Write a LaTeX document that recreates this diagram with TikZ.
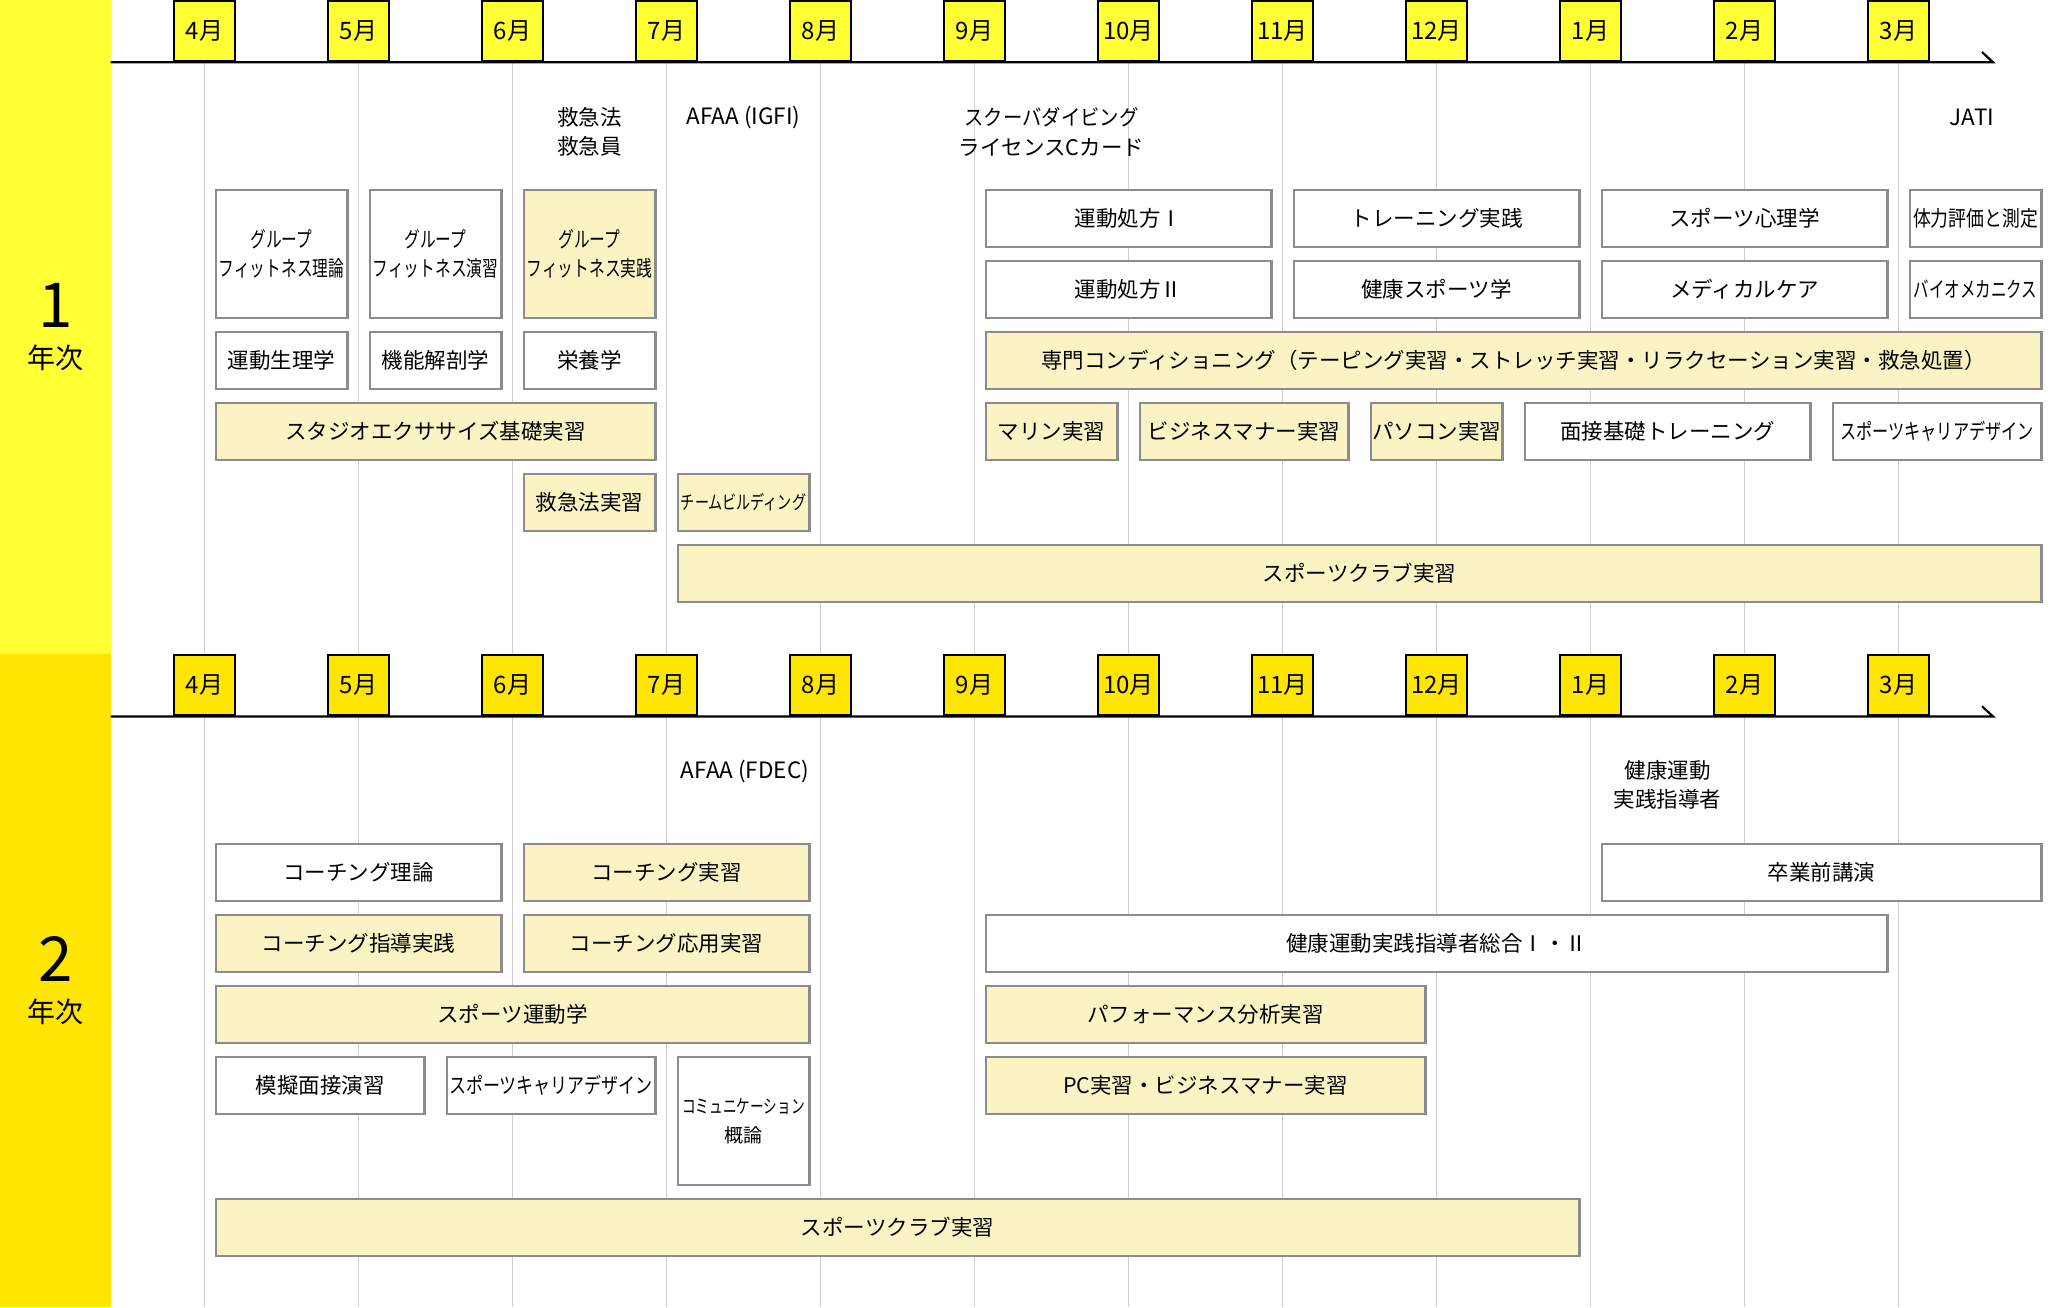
\documentclass[tikz,border=0pt]{standalone}
\usepackage{fontspec}
\usepackage{graphicx}
\setmainfont{Noto Sans CJK JP}
\definecolor{yA}{HTML}{FFFF33}
\definecolor{yB}{HTML}{FFE600}
\definecolor{cream}{HTML}{FAF4C4}
\definecolor{bord}{HTML}{8C8C8C}
\definecolor{gridc}{HTML}{CFCFCF}
\newcommand\nar[2][0.73]{\scalebox{#1}[1]{#2}}
% name, from month, to month, first row, last row, year offset, style, text
\newcommand\crs[8]{%
  \pgfmathsetmacro\crsxa{214.5+154*#2}%
  \pgfmathsetmacro\crsxb{194.5+154*#3}%
  \pgfmathsetmacro\crsya{#6+189+71*(#4-1)}%
  \pgfmathsetmacro\crsyb{#6+248+71*(#5-1)}%
  \node[#7, minimum width={\crsxb-\crsxa-2.2}, minimum height={\crsyb-\crsya-2.2}] (#1) at ({(\crsxa+\crsxb)/2},{(\crsya+\crsyb)/2}) {#8};%
}
\tikzset{
  course/.style={draw=bord, line width=2.2pt, inner sep=0pt, font=\fontsize{21.5}{29.5}\selectfont, align=center, text=black},
  wbox/.style={course, fill=white},
  cbox/.style={course, fill=cream},
  mon/.style={draw=black, line width=2pt, minimum width=60.3, minimum height=60, inner sep=0pt, font=\fontsize{24}{24}\selectfont},
  note/.style={inner sep=0pt, font=\fontsize{21.5}{29.5}\selectfont, align=center},
  bignum/.style={inner sep=0pt, font=\fontsize{62}{62}\selectfont},
  yeartxt/.style={inner sep=0pt, font=\fontsize{28}{28}\selectfont},
}
\begin{document}
\begin{tikzpicture}[x=1pt, y=-1pt]
\useasboundingbox (0,0) rectangle (2072,1307);
% bands
\fill[yA] (0,0) rectangle (110.5,653.5);
\fill[yB] (0,653.5) rectangle (110.5,1307);
% grid lines
\foreach \i in {0,...,11}{
  \draw[gridc, line width=1.2pt] ({204.5+154*\i},0) -- ({204.5+154*\i},1307);
}
% axes
\coordinate (a1s) at (110.5,62.3);
\coordinate (a1e) at (1993,62.3);
\coordinate (a1h) at (1982,52);
\coordinate (a2s) at (110.5,716.5);
\coordinate (a2e) at (1993,716.5);
\coordinate (a2h) at (1982,706.2);
\draw[black, line width=2.2pt] (a1s) -- (a1e) -- (a1h);
\draw[black, line width=2.2pt] (a2s) -- (a2e) -- (a2h);
% month boxes
\foreach \m [count=\i from 0] in {4,5,6,7,8,9,10,11,12,1,2,3}{
  \node[mon, fill=yA] (m1-\i) at ({204.5+154*\i},31.2) {\m 月};
  \node[mon, fill=yB] (m2-\i) at ({204.5+154*\i},685.4) {\m 月};
}
% year labels
\node[bignum] (y1num) at (55.5,305) {1};
\node[yeartxt] (y1txt) at (55.5,358) {年次};
\node[bignum] (y2num) at (55.5,959) {2};
\node[yeartxt] (y2txt) at (55.5,1012) {年次};
% year 1 notes
\node[note] (n1a) at (589.5,132) {救急法\\救急員};
\node[note, font=\fontsize{22.5}{29.5}\selectfont] (n1b) at (743.5,117) {AFAA (IGFI)};
\node[note] (n1c) at (1051.5,132) {\nar[0.9]{スクーバダイビング}\\ライセンスCカード};
\node[note, font=\fontsize{22.5}{29.5}\selectfont] (n1d) at (1972,117) {JATI};
% year 1 courses
\crs{gf1}{0}{1}{1}{2}{0}{wbox}{\nar{グループ}\\\nar{フィットネス理論}}
\crs{gf2}{1}{2}{1}{2}{0}{wbox}{\nar{グループ}\\\nar{フィットネス演習}}
\crs{gf3}{2}{3}{1}{2}{0}{cbox}{\nar{グループ}\\\nar{フィットネス実践}}
\crs{ex1}{5}{7}{1}{1}{0}{wbox}{運動処方Ⅰ}
\crs{ex2}{5}{7}{2}{2}{0}{wbox}{運動処方Ⅱ}
\crs{tr}{7}{9}{1}{1}{0}{wbox}{トレーニング実践}
\crs{hs}{7}{9}{2}{2}{0}{wbox}{健康スポーツ学}
\crs{sp}{9}{11}{1}{1}{0}{wbox}{スポーツ心理学}
\crs{mc}{9}{11}{2}{2}{0}{wbox}{メディカルケア}
\crs{ft}{11}{12}{1}{1}{0}{wbox}{\nar[0.83]{体力評価と測定}}
\crs{bm}{11}{12}{2}{2}{0}{wbox}{\nar[0.72]{バイオメカニクス}}
\crs{ph}{0}{1}{3}{3}{0}{wbox}{運動生理学}
\crs{an}{1}{2}{3}{3}{0}{wbox}{機能解剖学}
\crs{nu}{2}{3}{3}{3}{0}{wbox}{栄養学}
\crs{cd}{5}{12}{3}{3}{0}{cbox}{専門コンディショニング（テーピング実習・ストレッチ実習・リラクセーション実習・救急処置）}
\crs{st}{0}{3}{4}{4}{0}{cbox}{スタジオエクササイズ基礎実習}
\crs{ma}{5}{6}{4}{4}{0}{cbox}{マリン実習}
\crs{bz}{6}{7.5}{4}{4}{0}{cbox}{ビジネスマナー実習}
\crs{pc}{7.5}{8.5}{4}{4}{0}{cbox}{パソコン実習}
\crs{iv}{8.5}{10.5}{4}{4}{0}{wbox}{面接基礎トレーニング}
\crs{cr}{10.5}{12}{4}{4}{0}{wbox}{\nar[0.75]{スポーツキャリアデザイン}}
\crs{fa}{2}{3}{5}{5}{0}{cbox}{救急法実習}
\crs{tb}{3}{4}{5}{5}{0}{cbox, font=\fontsize{19}{26}\selectfont}{\nar[0.74]{チームビルディング}}
\crs{cl}{3}{12}{6}{6}{0}{cbox}{スポーツクラブ実習}
% year 2 notes
\node[note, font=\fontsize{22.5}{29.5}\selectfont] (n2a) at (745,771) {AFAA (FDEC)};
\node[note] (n2b) at (1667.5,785) {健康運動\\実践指導者};
% year 2 courses
\crs{ct}{0}{2}{1}{1}{654}{wbox}{コーチング理論}
\crs{cp}{2}{4}{1}{1}{654}{cbox}{コーチング実習}
\crs{cg}{0}{2}{2}{2}{654}{cbox}{コーチング指導実践}
\crs{ca}{2}{4}{2}{2}{654}{cbox}{コーチング応用実習}
\crs{sk}{0}{4}{3}{3}{654}{cbox}{スポーツ運動学}
\crs{mi}{0}{1.5}{4}{4}{654}{wbox}{模擬面接演習}
\crs{crb}{1.5}{3}{4}{4}{654}{wbox}{\nar[0.79]{スポーツキャリアデザイン}}
\crs{cm}{3}{4}{4}{5}{654}{wbox, font=\fontsize{19}{29.5}\selectfont}{\nar[0.72]{コミュニケーション}\\概論}
\crs{clb}{0}{9}{6}{6}{654}{cbox}{スポーツクラブ実習}
\crs{gr}{9}{12}{1}{1}{654}{wbox}{卒業前講演}
\crs{hk}{5}{11}{2}{2}{654}{wbox}{健康運動実践指導者総合Ⅰ・Ⅱ}
\crs{pf}{5}{8}{3}{3}{654}{cbox}{パフォーマンス分析実習}
\crs{pcb}{5}{8}{4}{4}{654}{cbox}{PC実習・ビジネスマナー実習}
\end{tikzpicture}
\end{document}
